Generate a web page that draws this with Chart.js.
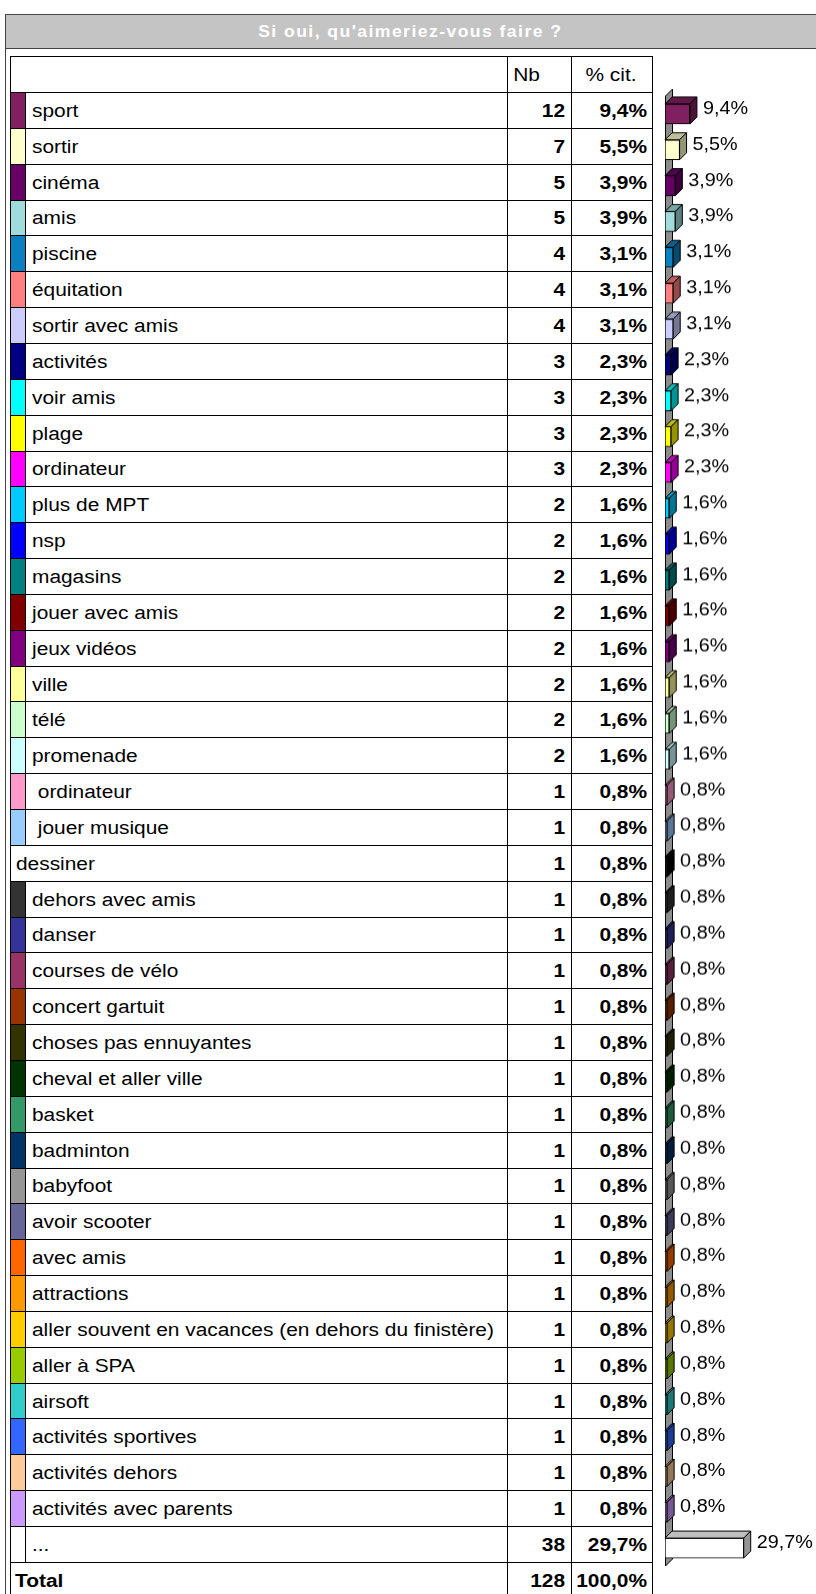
<!DOCTYPE html>
<html lang="fr"><head><meta charset="utf-8">
<script src="https://cdn.jsdelivr.net/npm/chart.js@4.4.1/dist/chart.umd.min.js"></script>
<style>
html,body{margin:0;padding:0;background:#fff;}
body{width:816px;height:1594px;overflow:hidden;position:relative;font-family:"Liberation Sans",Arial,sans-serif;color:#000;}
.abs{position:absolute;}
#frame{left:5px;top:14px;width:900px;height:1700px;border:1px solid #444;box-sizing:border-box;}
#title{left:5px;top:14px;width:900px;height:35px;background:#c4c4c4;border:1px solid #444;box-sizing:border-box;}
#titleText{left:5px;top:14px;width:811px;height:35px;line-height:35px;text-align:center;color:#fff;font-weight:bold;font-size:16px;}
#titleText span{display:inline-block;transform:scaleX(1.1);letter-spacing:1.3px;}
.ln{position:absolute;background:#000;}
.sw{position:absolute;}
.tx{position:absolute;white-space:pre;font-size:18px;line-height:20px;}
.tx span{display:inline-block;transform:scaleX(1.16);}
.tx.l span{transform-origin:left center;}
.tx.r{text-align:right;}
.tx.r span{transform-origin:right center;}
.tx.c{text-align:center;}
.b{font-weight:bold;}
#cw{position:absolute;}
</style></head><body>
<div id="frame" class="abs"></div>
<div id="title" class="abs"></div>
<div id="titleText" class="abs"><span>Si oui, qu'aimeriez-vous faire ?</span></div>
<div id="tbl"></div>
<div id="cw"><canvas id="c"></canvas></div>
<script>
// ---- data ----
const categories = ["sport","sortir","cinéma","amis","piscine","équitation","sortir avec amis","activités","voir amis","plage","ordinateur","plus de MPT","nsp","magasins","jouer avec amis","jeux vidéos","ville","télé","promenade"," ordinateur"," jouer musique","dessiner","dehors avec amis","danser","courses de vélo","concert gartuit","choses pas ennuyantes","cheval et aller ville","basket","badminton","babyfoot","avoir scooter","avec amis","attractions","aller souvent en vacances (en dehors du finistère)","aller à SPA","airsoft","activités sportives","activités dehors","activités avec parents","..."];
const counts = [12,7,5,5,4,4,4,3,3,3,3,2,2,2,2,2,2,2,2,1,1,1,1,1,1,1,1,1,1,1,1,1,1,1,1,1,1,1,1,1,38];
const percents = [9.4,5.5,3.9,3.9,3.1,3.1,3.1,2.3,2.3,2.3,2.3,1.6,1.6,1.6,1.6,1.6,1.6,1.6,1.6,0.8,0.8,0.8,0.8,0.8,0.8,0.8,0.8,0.8,0.8,0.8,0.8,0.8,0.8,0.8,0.8,0.8,0.8,0.8,0.8,0.8,29.7];
const colors = ["#802060","#FFFFCC","#660066","#A0DCDC","#0A80C0","#FF8080","#CCCCFF","#000080","#00FFFF","#FFFF00","#FF00FF","#00CCFF","#0000FF","#008080","#800000","#800080","#FFFF99","#CCFFCC","#CCFFFF","#FF99CC","#99CCFF","#000000","#333333","#333399","#993366","#993300","#333300","#003300","#339966","#003366","#969696","#666699","#FF6600","#FF9900","#FFCC00","#99CC00","#33CCCC","#3366FF","#FFCC99","#CC99FF","#FFFFFF"];
const headerLabels = ["Nb","% cit."];
const totalLabel = "Total";
const totalCount = 128;
const totalPercent = 100.0;
const noSwatch = ["dessiner"];

// ---- layout ----
const L=10, NB=507, PC=571, R=652, T=56, HH=36, RH=35.85, SW=14;
const fmt = v => v.toFixed(1).replace('.',',') + '%';
const tbl = document.getElementById('tbl');
function el(cls, x, y, w, h, css){ const d=document.createElement('div'); d.className=cls; Object.assign(d.style,{left:x+'px',top:y+'px',width:w+'px',height:h+'px'},css||{}); tbl.appendChild(d); return d; }
function txt(s, cls, x, y, w){ const d=el('tx '+cls, x, y-10, w, 20); const sp=document.createElement('span'); sp.textContent=s; d.appendChild(sp); return d; }
const nRows = categories.length + 1;
const yRow = i => T + HH + i*RH;
const bottom = yRow(nRows);
el('ln', L, T, R-L+1, 1);
for (let i=0;i<=nRows;i++) el('ln', L, Math.round(yRow(i)), R-L+1, 1);
[L,NB,PC,R].forEach(x=>el('ln', x, T, 1, bottom-T));
txt(headerLabels[0], 'c', NB, T+HH/2+1, 40);
txt(headerLabels[1], 'c', PC, T+HH/2+1, R-PC);
categories.forEach((c,i)=>{
  const y0 = Math.round(yRow(i)), y1 = Math.round(yRow(i+1)), yc = (yRow(i)+yRow(i+1))/2+1;
  let tx = L+6;
  if (!noSwatch.includes(c)) {
    el('sw', L+1, y0+1, SW, y1-y0-1, {background:colors[i]});
    el('ln', L+SW+1, y0, 1, y1-y0);
    tx = L+SW+8;
  }
  txt(c, 'l', tx, yc, NB-tx-4);
  txt(String(counts[i]), 'r b', NB, yc, PC-NB-6);
  txt(fmt(percents[i]), 'r b', PC, yc, R-PC-5);
});
{
  const i = categories.length, yc = (yRow(i)+yRow(i+1))/2+1;
  txt(totalLabel, 'l b', L+5, yc, 200);
  txt(String(totalCount), 'r b', NB, yc, PC-NB-6);
  txt(fmt(totalPercent), 'r b', PC, yc, R-PC-5);
}

// ---- chart ----
const D = 7, PADT = 10, PADL = 5;
const areaTop = yRow(0) + 4, areaH = categories.length*RH;
const cw = document.getElementById('cw');
const CL = 660, CW = 816-CL;
Object.assign(cw.style,{left:CL+'px', top:(areaTop-PADT)+'px', width:CW+'px', height:(areaH+2*PADT)+'px'});
const canvas = document.getElementById('c');
canvas.width = CW; canvas.height = areaH+2*PADT;
canvas.style.width = CW+'px'; canvas.style.height = (areaH+2*PADT)+'px';

function shade(hex, f){
  const n = parseInt(hex.slice(1),16);
  const r=Math.round(((n>>16)&255)*f), g=Math.round(((n>>8)&255)*f), b=Math.round((n&255)*f);
  return `rgb(${r},${g},${b})`;
}
function poly(ctx, pts, fill){
  ctx.beginPath(); ctx.moveTo(pts[0][0],pts[0][1]);
  for (let k=1;k<pts.length;k++) ctx.lineTo(pts[k][0],pts[k][1]);
  ctx.closePath(); ctx.fillStyle=fill; ctx.fill(); ctx.strokeStyle='#000'; ctx.lineWidth=1; ctx.stroke();
}
const bar3d = {
  id:'bar3d',
  beforeDatasetsDraw(chart){
    const {ctx, chartArea:a} = chart;
    ctx.save();
    poly(ctx, [[a.left+0.5,a.bottom],[a.left+0.5,a.top],[a.left+0.5+D,a.top-D],[a.left+0.5+D,a.bottom-D]], '#8c8c8c');
    ctx.restore();
  },
  afterDatasetsDraw(chart){
    const ctx = chart.ctx, ds = chart.data.datasets[0];
    chart.getDatasetMeta(0).data.forEach((e,i)=>{
      const {x,y,base,height} = e.getProps(['x','y','base','height'], true);
      const top=y-height/2, bot=y+height/2;
      ctx.save();
      poly(ctx, [[base,top],[base+D,top-D],[x+D,top-D],[x,top]], shade(ds.backgroundColor[i],0.75));
      poly(ctx, [[x,top],[x+D,top-D],[x+D,bot-D],[x,bot]], shade(ds.backgroundColor[i],0.58));
      ctx.font = '18px "Liberation Sans", Arial, sans-serif';
      ctx.textBaseline = 'middle'; ctx.fillStyle = '#000';
      ctx.translate(x+D+6, y-5); ctx.scale(1.1,1);
      ctx.fillText(fmt(ds.data[i]), 0, 0);
      ctx.restore();
    });
  }
};
new Chart(canvas, {
  type:'bar',
  data:{labels:categories, datasets:[{data:percents, backgroundColor:colors, borderColor:'#000', borderWidth:1, borderSkipped:false, barThickness:20}]},
  options:{
    indexAxis:'y', responsive:false, maintainAspectRatio:false, animation:false, devicePixelRatio:1,
    layout:{padding:{top:PADT,bottom:PADT,left:PADL,right:0}},
    plugins:{legend:{display:false}, tooltip:{enabled:false}, title:{display:false}},
    scales:{
      x:{display:false, min:0, max:(CW-PADL)/2.65},
      y:{display:false}
    }
  },
  plugins:[bar3d]
});
</script>
</body></html>
